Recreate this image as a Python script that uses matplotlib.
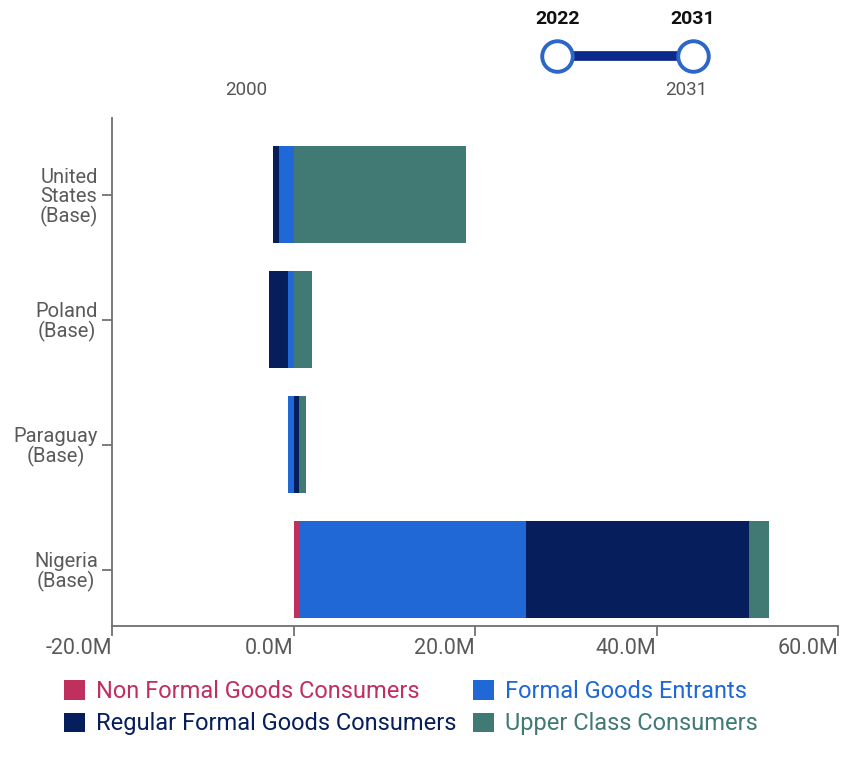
import matplotlib
matplotlib.use("Agg")
import matplotlib.pyplot as plt
from matplotlib.patches import Rectangle
import numpy as np

plt.rcParams['font.family'] = ['Roboto', 'DejaVu Sans']

# ---------------- data (change in consumers, millions) ----------------
countries = ['United\nStates\n(Base)', 'Poland\n(Base)', 'Paraguay\n(Base)', 'Nigeria\n(Base)']
series_names = ['Non Formal Goods Consumers', 'Formal Goods Entrants',
                'Regular Formal Goods Consumers', 'Upper Class Consumers']
non_formal = [0.0, 0.0, 0.0, 0.7]
formal_entrants = [-1.6, -0.65, -0.6, 24.9]
regular_formal = [-0.7, -2.1, 0.6, 24.6]
upper_class = [19.0, 2.0, 0.8, 2.2]
series_colors = ['#C0305F', '#1F68D6', '#061F5C', '#417A74']
x_ticks = [-20, 0, 20, 40, 60]
x_tick_labels = ['-20.0M', '0.0M', '20.0M', '40.0M', '60.0M']
slider_min, slider_max = 2000, 2031
selected_years = [2022, 2031]

# ---------------- figure ----------------
W, H = 843, 760
fig = plt.figure(figsize=(W / 100, H / 100), dpi=100)

def fx(px):
    return px / W

def fy(py):
    return 1 - py / H

ax_left, ax_right, ax_top, ax_bottom = 112, 838, 118, 626
ax = fig.add_axes([fx(ax_left), fy(ax_bottom), fx(ax_right - ax_left), (ax_bottom - ax_top) / H])

ypos = np.arange(len(countries))
series = [non_formal, formal_entrants, regular_formal, upper_class]
pos_base = np.zeros(len(countries))
neg_base = np.zeros(len(countries))
bar_h = 0.776
for vals, col in zip(series, series_colors):
    vals = np.array(vals, dtype=float)
    left = np.where(vals >= 0, pos_base, neg_base)
    ax.barh(ypos, vals, left=left, height=bar_h, color=col, edgecolor='none')
    pos_base = pos_base + np.where(vals >= 0, vals, 0)
    neg_base = neg_base + np.where(vals < 0, vals, 0)

ax.set_xlim(-20, 60)
ax.set_ylim(3.45, -0.616)

ax.set_xticks(x_ticks)
ax.set_xticklabels(x_tick_labels, ha='right')
ax.set_yticks(ypos)
ax.set_yticklabels(countries, linespacing=1.0)
for lbl in ax.get_yticklabels():
    lbl.set_multialignment('center')

ax.tick_params(axis='both', colors='#666666', labelcolor='#5a5a5a',
               labelsize=14.5, length=7, width=1.2)
ax.tick_params(axis='x', pad=2, labelsize=15.5)
ax.tick_params(axis='y', pad=3)
for s in ['top', 'right']:
    ax.spines[s].set_visible(False)
for s in ['left', 'bottom']:
    ax.spines[s].set_color('#6e6e6e')
    ax.spines[s].set_linewidth(1.3)

# ---------------- legend ----------------
order = [0, 2, 1, 3]
handles = [Rectangle((0, 0), 1, 1, facecolor=series_colors[i], edgecolor='none') for i in order]
labels = [series_names[i] for i in order]
leg = fig.legend(handles, labels, ncol=2, loc='upper left',
                 bbox_to_anchor=(fx(64), fy(680)), frameon=False,
                 fontsize=17, handlelength=0.9, handleheight=0.9,
                 handletextpad=0.45, columnspacing=0.7, labelspacing=0.4,
                 borderaxespad=0, borderpad=0)
for t, i in zip(leg.get_texts(), order):
    t.set_color(series_colors[i])

# ---------------- year slider ----------------
sx0, sx1 = 225, 693
sy = 56
ax_s = fig.add_axes([fx(sx0), fy(sy + 20), fx(sx1 - sx0), 40 / H])
ax_s.set_xlim(slider_min, slider_max)
ax_s.set_ylim(-1, 1)
ax_s.axis('off')
ax_s.plot(selected_years, [0, 0], color='#0B2A8C', lw=7, solid_capstyle='butt',
          zorder=2, clip_on=False)
ax_s.plot(selected_years, [0, 0], linestyle='none', marker='o', markersize=22,
          markerfacecolor='white', markeredgecolor='#2C66C8', markeredgewidth=2.8,
          zorder=3, clip_on=False)
for yr in selected_years:
    ax_s.annotate(str(yr), (yr, 0), xytext=(0, 20), textcoords='offset points',
                  ha='center', va='bottom', fontsize=14, fontweight='bold',
                  color='#111111', annotation_clip=False)
ax_s.annotate(str(slider_min), (slider_min, 0), xytext=(0, -18), textcoords='offset points',
              ha='left', va='top', fontsize=13.5, color='#555555', annotation_clip=False)
ax_s.annotate(str(slider_max), (slider_max, 0), xytext=(-5, -18), textcoords='offset points',
              ha='center', va='top', fontsize=13.5, color='#555555', annotation_clip=False)

fig.savefig('out.png', dpi=100, facecolor='white')
